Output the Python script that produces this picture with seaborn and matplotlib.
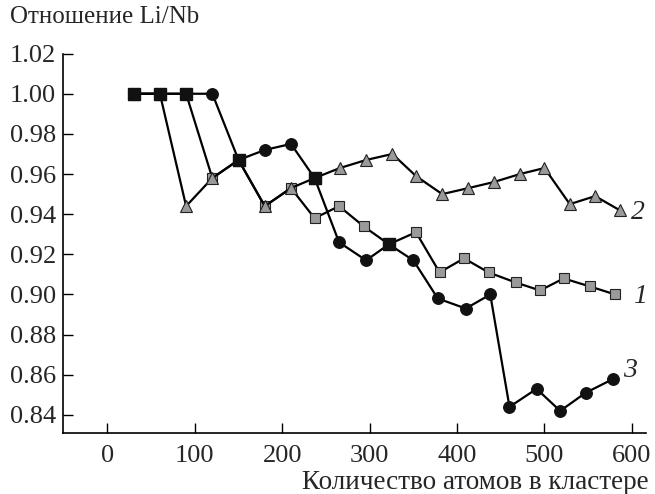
import numpy as np
import pandas as pd
import matplotlib
matplotlib.use("Agg")
import matplotlib.pyplot as plt
import seaborn as sns

# --- data ---
# curve 1: grey squares
x1 = [30, 60, 90, 120, 150, 180, 210, 237, 265, 293, 322, 353, 380, 408, 436, 467, 495, 522, 552, 581]
y1 = [1.000, 1.000, 1.000, 0.958, 0.967, 0.944, 0.953, 0.938, 0.944, 0.934,
      0.925, 0.931, 0.911, 0.918, 0.911, 0.906, 0.902, 0.908, 0.904, 0.900]
# curve 2: grey triangles
x2 = [30, 60, 90, 120, 150, 180, 210, 237, 266, 296, 326, 353, 383, 413, 442, 472, 500, 529, 558, 586]
y2 = [1.000, 1.000, 0.944, 0.958, 0.967, 0.944, 0.953, 0.958, 0.963, 0.967,
      0.970, 0.959, 0.950, 0.953, 0.956, 0.960, 0.963, 0.945, 0.949, 0.942]
# curve 3: black circles
x3 = [30, 60, 90, 120, 150, 180, 210, 237, 265, 296, 322, 350, 378, 410, 438, 460, 491, 518, 547, 579]
y3 = [1.000, 1.000, 1.000, 1.000, 0.967, 0.972, 0.975, 0.958, 0.926, 0.917,
      0.925, 0.917, 0.898, 0.893, 0.900, 0.844, 0.853, 0.842, 0.851, 0.858]

x_ticks = [0, 100, 200, 300, 400, 500, 600]
y_ticks = [0.84, 0.86, 0.88, 0.90, 0.92, 0.94, 0.96, 0.98, 1.00, 1.02]

sns.set_style("ticks")
plt.rcParams['font.family'] = ['Liberation Serif', 'DejaVu Serif']

fig = plt.figure(figsize=(6.55, 4.94), dpi=100)
ax = fig.add_axes([0.096, 0.1235, 0.89, 0.768])

grey = "#9a9a9a"
edge = "#222222"

sns.lineplot(x=x3, y=y3, ax=ax, color="black", lw=1.6, marker="o", markersize=8.5,
             markerfacecolor="#111111", markeredgecolor="#111111", sort=False, zorder=2)
sns.lineplot(x=x1, y=y1, ax=ax, color="black", lw=1.6, marker="s", markersize=7.5,
             markerfacecolor=grey, markeredgecolor=edge, markeredgewidth=0.8, sort=False, zorder=3)
sns.lineplot(x=x2, y=y2, ax=ax, color="black", lw=1.6, marker="^", markersize=9,
             markerfacecolor=grey, markeredgecolor=edge, markeredgewidth=0.8, sort=False, zorder=4)

# points where the black curve coincides with another curve are drawn as black squares
ov = pd.DataFrame({'x': x3, 'y': y3})
others = pd.DataFrame({'x': x1 + x2, 'y': y1 + y2})
mask = [((others['x'] - r.x).abs().lt(3) & (others['y'] - r.y).abs().lt(0.002)).any() for r in ov.itertuples()]
ov = ov[mask]
ax.plot(ov['x'], ov['y'], ls="none", marker="s", markersize=8,
        markerfacecolor="#111111", markeredgecolor="#111111", zorder=5)

ax.text(599, 0.941, "2", fontsize=20, style="italic", va="center", ha="left")
ax.text(601, 0.899, "1", fontsize=20, style="italic", va="center", ha="left")
ax.text(590, 0.862, "3", fontsize=20, style="italic", va="center", ha="left")

ax.set_xlim(-51, 616)
ax.set_ylim(0.831, 1.02)
ax.set_xticks(x_ticks)
ax.set_yticks(y_ticks)
ax.set_yticklabels([f"{v:.2f}" for v in y_ticks])
ax.tick_params(direction="in", length=7, width=1, labelsize=19, color="black", pad=5)
ax.tick_params(axis="x", pad=9)
sns.despine(ax=ax)
for s in ["left", "bottom"]:
    ax.spines[s].set_linewidth(1.2)
    ax.spines[s].set_color("black")
ax.set_xlabel("")
ax.set_ylabel("")

fig.text(0.015, 1 - 17 / 494, "Отношение Li/Nb", fontsize=18, va="center", ha="left")
fig.text(0.99, 1 - 482 / 494, "Количество атомов в кластере", fontsize=19.5, va="center", ha="right")

fig.savefig("out.png", dpi=100)
